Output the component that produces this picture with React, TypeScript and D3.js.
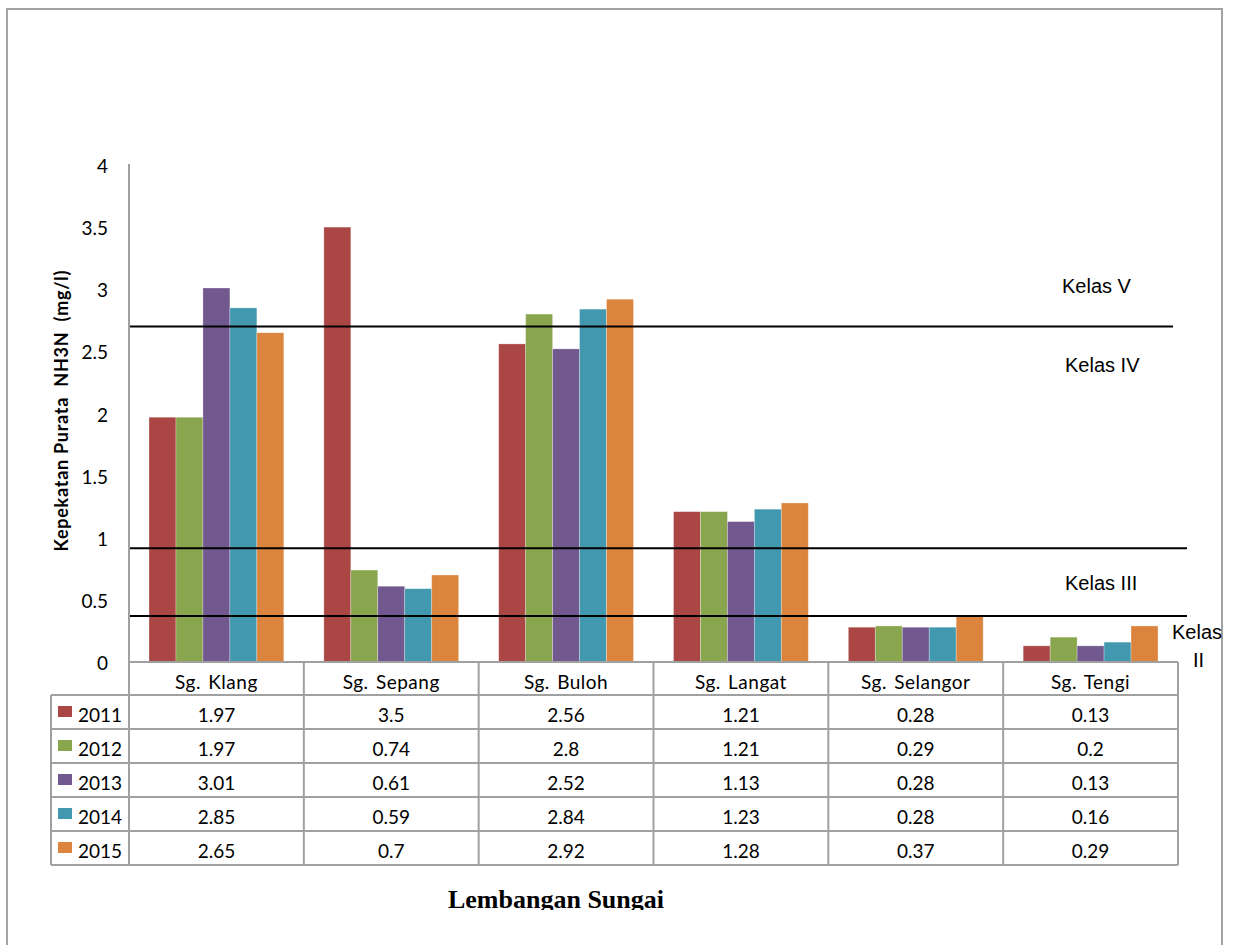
import React from "react";
import * as d3 from "d3";

const categories = ["Sg. Klang", "Sg. Sepang", "Sg. Buloh", "Sg. Langat", "Sg. Selangor", "Sg. Tengi"];
const years = ["2011", "2012", "2013", "2014", "2015"];
const v2011 = [1.97, 3.5, 2.56, 1.21, 0.28, 0.13];
const v2012 = [1.97, 0.74, 2.8, 1.21, 0.29, 0.2];
const v2013 = [3.01, 0.61, 2.52, 1.13, 0.28, 0.13];
const v2014 = [2.85, 0.59, 2.84, 1.23, 0.28, 0.16];
const v2015 = [2.65, 0.7, 2.92, 1.28, 0.37, 0.29];
const seriesValues = [v2011, v2012, v2013, v2014, v2015];
const colors = ["#AA4643", "#89A54E", "#71588F", "#4198AF", "#DB843D"];
const yTicks = [0, 0.5, 1, 1.5, 2, 2.5, 3, 3.5, 4];
const yTickLabels = ["0", "0.5", "1", "1.5", "2", "2.5", "3", "3.5", "4"];
// class boundary lines (mg/l) and their labels
const classLines = [2.7, 0.915, 0.37];
const classLabels = ["Kelas V", "Kelas IV", "Kelas III"];

const W = 1233;
const H = 945;
const plotL = 129;
const plotR = 1178;
const y0 = 662;
const y4 = 165;
const rowH = 34;
const headerBottom = 695;
const tableLeft = 51;
const gridColor = "#a0a0a0";
const calibri = "Lato, 'Open Sans', sans-serif";
const arial = "'Liberation Sans', Arial, sans-serif";

export default function App() {
  const x = d3.scaleBand<string>().domain(categories).range([plotL, plotR]).paddingInner(0).paddingOuter(0);
  const bw = x.bandwidth();
  const gap = bw * 0.1145;
  const xi = d3.scaleBand<string>().domain(years).range([gap, bw - gap]).padding(0);
  const y = d3.scaleLinear().domain([0, 4]).range([y0, y4]);
  const tableBottom = headerBottom + rowH * years.length;
  const lineEnds = [1173, 1187, 1187];

  return (
    <svg width={W} height={H} style={{ position: "absolute", left: 0, top: 0, background: "#fff" }}>
      <defs>
        <clipPath id="titleClip">
          <rect x={0} y={0} width={W} height={910} />
        </clipPath>
      </defs>
      <rect x={0} y={0} width={W} height={H} fill="#fff" />
      {/* outer frame */}
      <path d={`M7,${H + 5} V9 H1222 V${H + 5}`} fill="none" stroke="#a3a3a3" strokeWidth={2} />

      {/* bars */}
      {seriesValues.map((vals, si) =>
        vals.map((v, ci) => (
          <rect
            key={`b${si}-${ci}`}
            x={(x(categories[ci]) as number) + (xi(years[si]) as number)}
            y={y(v)}
            width={xi.bandwidth()}
            height={y0 - y(v)}
            fill={colors[si]}
            stroke="rgba(255,255,255,0.35)"
            strokeWidth={0.8}
          />
        ))
      )}

      {/* class lines */}
      {classLines.map((c, i) => (
        <line key={`cl${i}`} x1={plotL} x2={lineEnds[i]} y1={y(c)} y2={y(c)} stroke="#000" strokeWidth={2} />
      ))}

      {/* y axis */}
      <line x1={plotL} x2={plotL} y1={y4 - 1} y2={tableBottom} stroke={gridColor} strokeWidth={2} />
      {yTicks.map((t, i) => (
        <text key={`yt${i}`} x={108} y={y(t) + 8} textAnchor="end" fontFamily={calibri} fontSize={19} fill="#000">
          {yTickLabels[i]}
        </text>
      ))}
      <text
        transform={`translate(68,${411}) rotate(-90)`}
        textAnchor="middle"
        fontFamily={calibri}
        fontWeight="bold"
        fontSize={18}
        textLength={281}
        lengthAdjust="spacing"
        fill="#000"
        style={{ whiteSpace: "pre" }}
      >
        {"Kepekatan Purata  NH3N  (mg/l)"}
      </text>

      {/* table grid */}
      <line x1={plotL} x2={plotR} y1={y0} y2={y0} stroke={gridColor} strokeWidth={2} />
      {d3.range(years.length + 1).map((r) => (
        <line
          key={`hr${r}`}
          x1={tableLeft}
          x2={plotR}
          y1={headerBottom + r * rowH}
          y2={headerBottom + r * rowH}
          stroke={gridColor}
          strokeWidth={2}
        />
      ))}
      <line x1={tableLeft} x2={tableLeft} y1={headerBottom} y2={tableBottom} stroke={gridColor} strokeWidth={2} />
      {categories.map((c, i) => (
        <line
          key={`vc${i}`}
          x1={(x(c) as number) + bw}
          x2={(x(c) as number) + bw}
          y1={y0}
          y2={tableBottom}
          stroke={gridColor}
          strokeWidth={2}
        />
      ))}
      {categories.map((c) => (
        <text key={`h${c}`} x={(x(c) as number) + bw / 2} y={y0 + 27} textAnchor="middle" fontFamily={calibri} fontSize={19} fill="#000" style={{ whiteSpace: "pre", wordSpacing: "2px", letterSpacing: "0.5px" }}>
          {c}
        </text>
      ))}
      {years.map((yr, r) => (
        <g key={`row${yr}`}>
          <rect x={58} y={headerBottom + r * rowH + 11} width={14} height={11} fill={colors[r]} />
          <text x={78} y={headerBottom + r * rowH + 27} fontFamily={calibri} fontSize={19} fill="#000">
            {yr}
          </text>
          {seriesValues[r].map((v, ci) => (
            <text
              key={`v${r}-${ci}`}
              x={(x(categories[ci]) as number) + bw / 2}
              y={headerBottom + r * rowH + 27}
              textAnchor="middle"
              fontFamily={calibri}
              fontSize={19}
              fill="#000"
            >
              {String(v)}
            </text>
          ))}
        </g>
      ))}

      {/* class labels */}
      <text x={1062} y={293} fontFamily={arial} fontSize={20} fill="#000">{classLabels[0]}</text>
      <text x={1065} y={372} fontFamily={arial} fontSize={20} fill="#000">{classLabels[1]}</text>
      <text x={1065} y={590} fontFamily={arial} fontSize={20} fill="#000">{classLabels[2]}</text>
      <text x={1172} y={639} fontFamily={arial} fontSize={20} fill="#000">Kelas</text>
      <text x={1193} y={667} fontFamily={arial} fontSize={20} fill="#000">II</text>

      {/* x title (clipped at bottom as in the original) */}
      <text
        x={556}
        y={908}
        textAnchor="middle"
        fontFamily="'Liberation Serif', 'DejaVu Serif', serif"
        fontWeight="bold"
        fontSize={26}
        fill="#000"
        clipPath="url(#titleClip)"
      >
        Lembangan Sungai
      </text>
    </svg>
  );
}
